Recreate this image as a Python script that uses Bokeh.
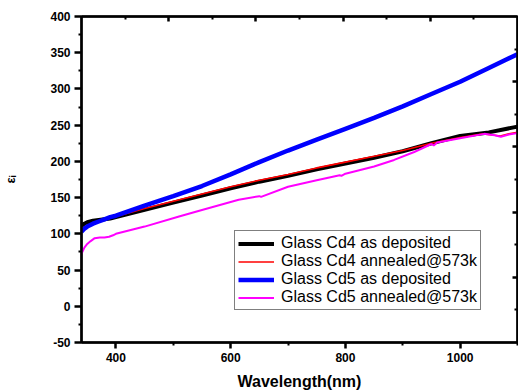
from bokeh.plotting import figure
from bokeh.models import Range1d, LinearAxis, FixedTicker, Legend
from bokeh.embed import file_html
from bokeh.resources import INLINE

# ---- data ----
wl_cd4_dep = [340, 345, 350, 360, 370, 380, 390, 400, 450, 500, 550, 600, 650, 700, 750, 800,
              850, 900, 950, 1000, 1050, 1100]
eps_cd4_dep = [111, 114, 116, 118, 119, 120, 121, 123, 133, 143, 153, 163, 172, 180, 189, 197,
               205, 214, 225, 235, 240, 248]

wl_cd4_ann = [375, 380, 390, 400, 450, 500, 550, 600, 650, 700, 750, 800, 850, 900, 950, 1000,
              1040, 1060, 1070, 1085, 1100]
eps_cd4_ann = [118, 119, 122, 124, 135, 145, 155, 165, 174, 182, 191, 199, 207, 215, 225, 233,
               238, 236, 235, 238, 240]

wl_cd5_dep = [340, 345, 350, 360, 370, 380, 390, 400, 450, 500, 550, 600, 650, 700, 750, 800,
              850, 900, 950, 1000, 1050, 1100]
eps_cd5_dep = [103, 107, 110, 114, 117, 120, 123, 125, 139, 152, 166, 182, 199, 215, 230, 245,
               260, 276, 293, 310, 329, 348]

wl_cd5_ann = [340, 342, 345, 350, 356, 363, 372, 380, 388, 395, 400, 450, 510, 550, 614, 650,
              653, 700, 750, 790, 793, 800, 850, 885, 920, 950, 954, 960, 1000, 1042, 1060,
              1071, 1085, 1100]
eps_cd5_ann = [72, 76, 81, 86, 90, 94, 95, 95, 96, 98, 100, 110, 124, 133, 147, 152, 151, 165,
               174, 181, 180, 183, 193, 202, 213, 224, 222, 226, 232, 238, 236, 234, 237, 239]

series_labels = ["Glass Cd4 as deposited", "Glass Cd4 annealed@573k",
                 "Glass Cd5 as deposited", "Glass Cd5 annealed@573k"]

x_major = [400, 600, 800, 1000]
x_minor = [500, 700, 900, 1100]
y_major = [-50, 0, 50, 100, 150, 200, 250, 300, 350, 400]
y_minor = [-25, 25, 75, 125, 175, 225, 275, 325, 375]
mirror_major = [2, 4, 6, 8]
mirror_minor = [1, 3, 5, 7, 9]

FONT = "Liberation Sans"

p = figure(width=518, height=392, output_backend="svg", toolbar_location=None,
           x_range=Range1d(340, 1100), y_range=Range1d(-50, 400),
           min_border_left=78, min_border_top=16, min_border_right=1, min_border_bottom=49,
           background_fill_color="white", border_fill_color="white")
p.grid.visible = False
p.outline_line_color = "black"
p.outline_line_width = 2

r1 = p.line(wl_cd4_dep, eps_cd4_dep, line_color="black", line_width=4)
r2 = p.line(wl_cd4_ann, eps_cd4_ann, line_color="#FF0000", line_width=1.6)
r3 = p.line(wl_cd5_dep, eps_cd5_dep, line_color="#0000FF", line_width=4.5)
r4 = p.line(wl_cd5_ann, eps_cd5_ann, line_color="#FF00FF", line_width=2)

# axes
xa = p.xaxis[0]
xa.ticker = FixedTicker(ticks=x_major, minor_ticks=x_minor)
ya = p.yaxis[0]
ya.ticker = FixedTicker(ticks=y_major, minor_ticks=y_minor)
ya.major_label_overrides = {v: str(v) for v in y_major}
for ax in (xa, ya):
    ax.axis_line_width = 2.5
    ax.major_tick_line_width = 2.5
    ax.minor_tick_line_width = 2
    ax.major_tick_in = 0
    ax.major_tick_out = 6
    ax.minor_tick_in = 0
    ax.minor_tick_out = 3
    ax.major_label_text_font = FONT
    ax.major_label_text_font_style = "bold"
    ax.major_label_text_font_size = "12px"
    ax.major_label_text_color = "black"
    ax.axis_label_text_font = FONT
    ax.axis_label_text_font_style = "bold"
    ax.axis_label_text_color = "black"
xa.major_label_standoff = 4
xa.axis_label = "Wavelength(nm)"
xa.axis_label_text_font_size = "16px"
xa.axis_label_standoff = 8
ya.major_tick_out = 7
ya.major_label_standoff = 4
ya.axis_label = "εᵢ"
ya.axis_label_text_font_size = "13px"
ya.axis_label_standoff = 29

# mirrored top / right axes (Origin style, inward ticks, no labels)
p.extra_x_ranges = {"top": Range1d(0, 10)}
p.extra_y_ranges = {"right": Range1d(0, 10)}
top = LinearAxis(x_range_name="top")
right = LinearAxis(y_range_name="right")
for ax in (top, right):
    ax.ticker = FixedTicker(ticks=mirror_major, minor_ticks=mirror_minor)
    ax.axis_line_width = 2.5
    ax.major_tick_line_width = 2.5
    ax.minor_tick_line_width = 2
    ax.major_tick_in = 5
    ax.major_tick_out = 0
    ax.minor_tick_in = 3
    ax.minor_tick_out = 0
    ax.major_label_overrides = {v: "" for v in mirror_major}
    ax.major_label_standoff = 0
p.add_layout(top, "above")
p.add_layout(right, "right")

legend = Legend(items=[(series_labels[0], [r1]), (series_labels[1], [r2]),
                       (series_labels[2], [r3]), (series_labels[3], [r4])],
                location=(153, 32))
legend.label_text_font = FONT
legend.label_text_font_size = "16px"
legend.label_text_color = "black"
legend.glyph_width = 36
legend.glyph_height = 17
legend.label_height = 17
legend.label_standoff = 7
legend.spacing = 0
legend.padding = 3
legend.margin = 0
legend.border_line_color = "black"
legend.border_line_width = 1
legend.background_fill_color = "white"
legend.background_fill_alpha = 1
p.add_layout(legend, "center")

open("out.html", "w").write(file_html(p, INLINE))
